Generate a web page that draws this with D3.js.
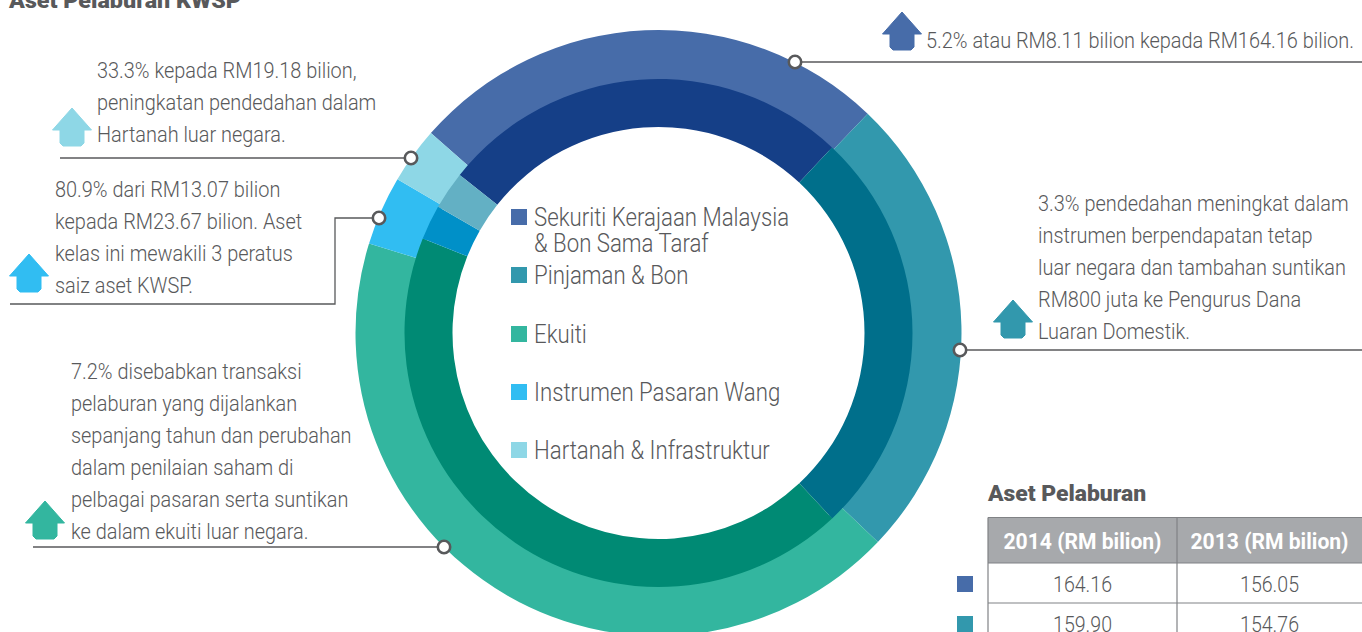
<!DOCTYPE html>
<html><head><meta charset="utf-8">
<script src="https://cdnjs.cloudflare.com/ajax/libs/d3/7.8.5/d3.min.js"></script>
<style>html,body{margin:0;padding:0;background:#fff;overflow:hidden}svg{display:block}</style>
</head><body><svg id="c" width="1362" height="632"></svg>
<script>
const categories = ["Sekuriti Kerajaan Malaysia & Bon Sama Taraf","Pinjaman & Bon","Ekuiti","Instrumen Pasaran Wang","Hartanah & Infrastruktur"];
const values2014 = [164.16,159.90,273.0,23.67,19.18];
const values2013 = [156.05,154.76,255.7,13.07,14.39];
const outerColors = ["#476ca9","#3298ad","#33b69f","#31bdf2","#8ed7e6"];
const innerColors = ["#153f87","#006f8b","#008a74","#0090c8","#63b0c4"];
const tableHead = ["2014 (RM bilion)","2013 (RM bilion)"];
const tableRows = [["164.16","156.05"],["159.90","154.76"]];
const legendLines = [["Sekuriti Kerajaan Malaysia","& Bon Sama Taraf"],["Pinjaman & Bon"],["Ekuiti"],["Instrumen Pasaran Wang"],["Hartanah & Infrastruktur"]];
const notes = [
 {i:0,x:926,y:48,ax:902,ay:12,lines:["5.2% atau RM8.11 bilion kepada RM164.16 bilion."],path:[[795,62],[1362,62]]},
 {i:4,x:97,y:78,ax:72,ay:108,lines:["33.3% kepada RM19.18 bilion,","peningkatan pendedahan dalam","Hartanah luar negara."],path:[[60,158],[411,158]]},
 {i:3,x:55,y:197,ax:29,ay:254,lines:["80.9% dari RM13.07 bilion","kepada RM23.67 bilion. Aset","kelas ini mewakili 3 peratus","saiz aset KWSP."],path:[[10,304],[335,304],[335,218],[379,218]]},
 {i:1,x:1038,y:211,ax:1013,ay:300,lines:["3.3% pendedahan meningkat dalam","instrumen berpendapatan tetap","luar negara dan tambahan suntikan","RM800 juta ke Pengurus Dana","Luaran Domestik."],path:[[1362,350],[960,350]]},
 {i:2,x:71,y:379,ax:45,ay:501,lines:["7.2% disebabkan transaksi","pelaburan yang dijalankan","sepanjang tahun dan perubahan","dalam penilaian saham di","pelbagai pasaran serta suntikan","ke dalam ekuiti luar negara."],path:[[33,547],[444,547]]}
];
const FONT="Roboto, sans-serif", GREY="#58595b", SX=.905;
const svg=d3.select("#c");
const label=(g,s,x,y,size,opt={})=>g.append("text")
  .attr("transform",`translate(${x},${y}) scale(${opt.sx||SX},1)`)
  .attr("text-anchor",opt.anchor||"start").attr("font-family",FONT)
  .attr("font-size",size).attr("font-weight",opt.weight||300)
  .attr("fill",opt.fill||GREY).text(s);

const cx=658.5,cy=333;
function ring(vals,cols,start,r0,r1,cls){
  const deg=Math.PI/180;
  const pie=d3.pie().sort(null).startAngle(start*deg).endAngle((start+360)*deg);
  const arc=d3.arc().innerRadius(r0).outerRadius(r1);
  svg.append("g").attr("transform",`translate(${cx},${cy})`).selectAll("path."+cls)
    .data(pie(vals)).join("path").attr("class",cls).attr("d",arc).attr("fill",(d,i)=>cols[i]);
}
ring(values2014,outerColors,-48.7,250,303,"o");
ring(values2013,innerColors,-51.5,206,254,"i");

// title
label(svg,"Aset Pelaburan KWSP",9,8,22,{weight:900,sx:1.06});

// legend
const lg=svg.append("g");
const legY=[209,267,326,384,442];
categories.forEach((c,i)=>{
  lg.append("rect").attr("x",511).attr("y",legY[i]).attr("width",16).attr("height",16).attr("fill",outerColors[i]);
  legendLines[i].forEach((t,j)=>label(lg,t,534,legY[i]+17+j*26,26,{sx:.855}));
});

// notes
const house=d3.line().curve(d3.curveLinear);
notes.forEach(n=>{
  const g=svg.append("g");
  n.lines.forEach((t,j)=>label(g,t,n.x,n.y+j*32,22));
  g.append("path").attr("d",d3.line()(n.path)).attr("fill","none").attr("stroke",GREY).attr("stroke-width",1.3);
  const e=n.path[n.path.length-1], dot=n.i===1?n.path[1]:e;
  const ends=n.i===0?n.path[0]:dot;
  g.append("circle").attr("cx",ends[0]).attr("cy",ends[1]).attr("r",6.2).attr("fill","#fff").attr("stroke",GREY).attr("stroke-width",2.6);
  const a=n.ax,t=n.ay;
  g.append("path").attr("d",house([[a,t],[a+19.5,t+22],[a+12,t+22],[a+12,t+35],[a+9,t+38],[a-9,t+38],[a-12,t+35],[a-12,t+22],[a-19.5,t+22]])+"Z")
   .attr("fill",outerColors[n.i]).attr("stroke",outerColors[n.i]).attr("stroke-linejoin","round").attr("stroke-width",1);
});

// table
const tb=svg.append("g");
label(tb,"Aset Pelaburan",988,501,22,{weight:900,sx:1.04});
const colX=[988,1177,1362], rowY=[517.5,563,603,643];
tb.append("rect").attr("x",colX[0]).attr("y",rowY[0]).attr("width",colX[2]-colX[0]).attr("height",rowY[1]-rowY[0]).attr("fill","#a7a9ac");
rowY.forEach(y=>tb.append("line").attr("x1",colX[0]).attr("x2",colX[2]).attr("y1",y).attr("y2",y).attr("stroke","#808285").attr("stroke-width",1.2));
colX.slice(0,2).forEach(x=>tb.append("line").attr("x1",x).attr("x2",x).attr("y1",rowY[0]).attr("y2",rowY[3]).attr("stroke","#808285").attr("stroke-width",1.2));
tableHead.forEach((h,i)=>label(tb,h,(colX[i]+colX[i+1])/2,549,22,{anchor:"middle",fill:"#fff",weight:700,sx:.96}));
tableRows.forEach((r,j)=>{
  r.forEach((v,i)=>label(tb,v,(colX[i]+colX[i+1])/2,rowY[j+1]+29,22,{anchor:"middle",sx:.89}));
  tb.append("rect").attr("x",957).attr("y",rowY[j+1]+13).attr("width",16).attr("height",16).attr("fill",outerColors[j]);
});
</script></body></html>
